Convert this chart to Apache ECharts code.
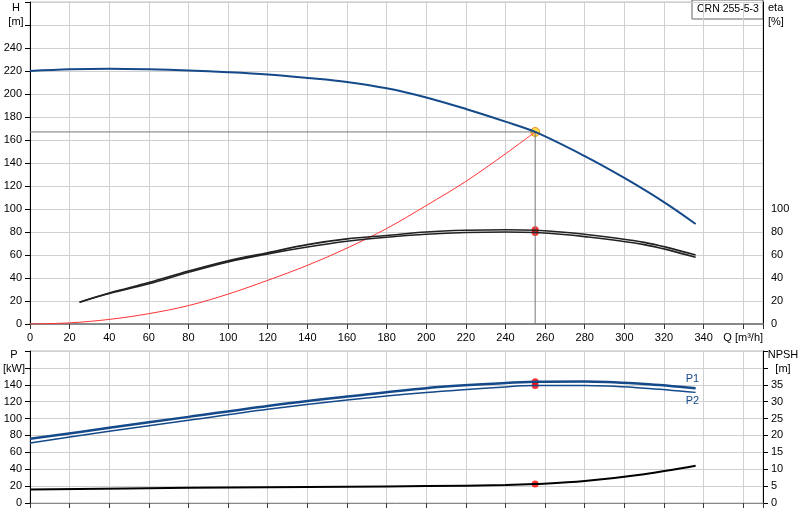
<!DOCTYPE html>
<html><head><meta charset="utf-8">
<script src="https://cdn.jsdelivr.net/npm/echarts@6/dist/echarts.min.js"></script>
<style>html,body{margin:0;padding:0;background:#fff}#c{width:800px;height:520px}</style>
</head><body><div id="c"></div>
<script>
const headQ=[0,20,40,60,80,100,120,140,160,180,200,220,240,255,280,300,320,336];
const headH=[220,221.5,222,221.5,220.5,219,217,214,210.5,205,197,187,176,167,146,127,106,87];
const etaQ=[25,40,60,80,100,120,140,160,180,200,220,240,255,280,310,336];
const eta1=[19,27,36,46,55,62,69,74,77,80,81.5,82,81.5,78,71,60];
const eta2=[19,26.5,35,45,54,61,67,72,75.5,78,79.5,80,79.5,76,69,58];
const sysQ=[0,20,40,60,80,100,120,140,160,180,200,220,240,255];
const sysH=[0,1,4,9,16,26,38,51,66,83,103,124,148,167];
const pQ=[0,40,80,120,160,200,240,255,280,310,336];
const p1=[76,89,102,115,126,136,142,143.5,144,141,136];
const p2=[71,85,98,111,122,131,137.5,139,139,136,131];
const npQ=[0,80,160,200,240,255,280,310,336];
const npsh=[4,4.5,4.8,5,5.3,5.6,6.5,8.5,11];
const duty={q:255,h:167,eta1:82,eta2:79.5,p1:143.5,p2:139,np:5.6};
const z=(a,b)=>a.map((v,i)=>[v,b[i]]);
const font='Liberation Sans';
const gl={lineStyle:{color:'#d0d0d0',width:1}};
const S=0.35;
const ch=echarts.init(document.getElementById('c'));
const xBase={type:'value',min:0,max:370,interval:20,splitLine:{show:true,...gl},axisLine:{show:false},axisTick:{show:true,lineStyle:{color:'#333'}}};
ch.setOption({
 animation:false,textStyle:{fontFamily:font},
 grid:[{left:30,right:37,top:2,height:322,show:true,borderColor:'#bbb',borderWidth:1},
       {left:30,right:37,top:351,height:152,show:true,borderColor:'#bbb',borderWidth:1}],
 xAxis:[{...xBase,gridIndex:0,axisLine:{show:true,onZero:false,lineStyle:{color:'#888',width:2}},
   axisLabel:{color:'#000',fontSize:11,formatter:v=>v==360?'Q [m³/h]':(v>340?'':v)}},
  {...xBase,gridIndex:1,axisLabel:{show:false},axisLine:{show:true,onZero:false,lineStyle:{color:'#888',width:1}}}],
 yAxis:[
  {type:'value',gridIndex:0,min:0,max:280,interval:20,splitLine:{show:true,...gl},axisLine:{show:true,lineStyle:{color:'#000'}},axisTick:{show:true,lineStyle:{color:'#000'}},axisLabel:{color:'#000',fontSize:11,formatter:v=>v>240?'':v}},
  {type:'value',gridIndex:0,position:'right',min:0,max:280,interval:20,splitLine:{show:false},axisLine:{show:true,lineStyle:{color:'#000'}},axisTick:{show:false},axisLabel:{color:'#000',fontSize:11,formatter:v=>v>100?'':v}},
  {type:'value',gridIndex:1,min:0,max:180,interval:20,splitLine:{show:true,...gl},axisLine:{show:true,lineStyle:{color:'#000'}},axisTick:{show:true,lineStyle:{color:'#000'}},axisLabel:{color:'#000',fontSize:11,formatter:v=>v>140?'':v}},
  {type:'value',gridIndex:1,position:'right',min:0,max:45,interval:5,splitLine:{show:false},axisLine:{show:true,lineStyle:{color:'#000'}},axisTick:{show:true,lineStyle:{color:'#000'}},axisLabel:{color:'#000',fontSize:11,formatter:v=>v>35?'':v}}
 ],
 series:[
  {type:'line',xAxisIndex:0,yAxisIndex:0,data:[[0,duty.h],[duty.q,duty.h],[duty.q,0]],symbol:'none',lineStyle:{color:'#777',width:1}},
  {type:'line',xAxisIndex:0,yAxisIndex:0,data:z(sysQ,sysH),smooth:S,symbol:'none',lineStyle:{color:'#f33',width:1}},
  {type:'line',xAxisIndex:0,yAxisIndex:0,data:z(headQ,headH),smooth:S,symbol:'none',lineStyle:{color:'#154a8a',width:2}},
  {type:'line',xAxisIndex:0,yAxisIndex:1,data:z(etaQ,eta1),smooth:S,symbol:'none',lineStyle:{color:'#222',width:1.6}},
  {type:'line',xAxisIndex:0,yAxisIndex:1,data:z(etaQ,eta2),smooth:S,symbol:'none',lineStyle:{color:'#222',width:1.6}},
  {type:'scatter',xAxisIndex:0,yAxisIndex:1,data:[[duty.q,duty.eta1],[duty.q,duty.eta2]],symbolSize:7,itemStyle:{color:'#f00'}},
  {type:'scatter',xAxisIndex:0,yAxisIndex:0,data:[[duty.q,duty.h]],symbolSize:9,itemStyle:{color:'#ffd21f',borderColor:'#e08000',borderWidth:1}},
  {type:'line',xAxisIndex:1,yAxisIndex:2,data:z(pQ,p1),smooth:S,symbol:'none',lineStyle:{color:'#154a8a',width:2.5},
   endLabel:{show:true,formatter:'P1',color:'#154a8a',fontSize:11,offset:[-18,-9]}},
  {type:'line',xAxisIndex:1,yAxisIndex:2,data:z(pQ,p2),smooth:S,symbol:'none',lineStyle:{color:'#154a8a',width:1.5},
   endLabel:{show:true,formatter:'P2',color:'#154a8a',fontSize:11,offset:[-18,9]}},
  {type:'scatter',xAxisIndex:1,yAxisIndex:2,data:[[duty.q,duty.p1],[duty.q,duty.p2]],symbolSize:7,itemStyle:{color:'#f00'}},
  {type:'line',xAxisIndex:1,yAxisIndex:3,data:z(npQ,npsh),smooth:S,symbol:'none',lineStyle:{color:'#000',width:2}},
  {type:'scatter',xAxisIndex:1,yAxisIndex:3,data:[[duty.q,duty.np]],symbolSize:7,itemStyle:{color:'#f00'}}
 ],
 graphic:[
  {type:'text',x:16,y:1,style:{text:'H\n[m]',fill:'#000',font:'11px Liberation Sans',align:'center',lineHeight:14}},
  {type:'text',x:768,y:1,style:{text:'eta\n[%]',fill:'#000',font:'11px Liberation Sans',lineHeight:14}},
  {type:'text',x:14,y:348,style:{text:'P\n[kW]',fill:'#000',font:'11px Liberation Sans',align:'center',lineHeight:14}},
  {type:'text',x:783,y:348,style:{text:'NPSH\n[m]',fill:'#000',font:'11px Liberation Sans',align:'center',lineHeight:14}},
  {type:'rect',shape:{x:692,y:0,width:71,height:19},style:{fill:'#fff',stroke:'#666',lineWidth:1}},
  {type:'text',x:697,y:4,style:{text:'CRN 255-5-3',fill:'#000',font:'10.5px Liberation Sans'}}
 ]
});
</script></body></html>
